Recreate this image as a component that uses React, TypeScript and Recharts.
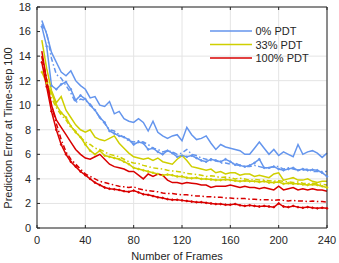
import { LineChart, Line, XAxis, YAxis, CartesianGrid } from 'recharts';

// frame counts on the x axis
const frames = [
  4, 8, 12, 16, 20, 24, 28, 32, 36, 40, 44, 48, 52, 56, 60, 64, 68, 72, 76, 80,
  84, 88, 92, 96, 100, 104, 108, 112, 116, 120, 124, 128, 132, 136, 140, 144, 148, 152, 156, 160,
  164, 168, 172, 176, 180, 184, 188, 192, 196, 200, 204, 208, 212, 216, 220, 224, 228, 232, 236, 240,
];

// 0% PDT
const blueSolid = [
  16.9, 15.8, 14.3, 13.5, 12.7, 12.4, 12.8, 12.0, 11.6, 11.3,
  10.6, 10.7, 10.0, 9.9, 10.3, 9.3, 9.5, 8.9, 8.7, 8.6,
  8.9, 8.6, 7.9, 8.7, 7.8, 7.5, 7.3, 7.5, 7.6, 7.1,
  8.2, 7.6, 7.2, 7.3, 7.5, 6.9, 6.4, 6.8, 6.6, 6.5,
  6.4, 6.3, 6.0, 6.0, 6.5, 7.0, 6.5, 6.0, 6.4, 5.9,
  6.2, 6.0, 5.8, 6.8, 6.0, 6.2, 6.3, 6.1, 5.75, 6.1,
];
const blueDashDot = [
  16.6, 15.9, 13.8, 12.5, 12.2, 11.6, 11.0, 10.2, 10.5, 10.4,
  10.1, 9.6, 9.0, 8.5, 8.0, 7.9, 7.6, 7.4, 7.1, 7.0,
  7.1, 7.0, 6.8, 6.5, 6.4, 6.2, 6.3, 6.2, 6.0, 6.1,
  6.4, 6.0, 5.9, 5.7, 5.6, 5.5, 5.5, 5.3, 5.3, 5.2,
  5.3, 5.1, 5.0, 5.0, 5.1, 5.0, 4.9, 4.9, 5.0, 5.0,
  4.8, 4.9, 4.8, 4.7, 4.7, 4.8, 4.6, 4.6, 4.6, 4.6,
];
const blueDots = [
  16.4, 14.8, 11.6, 11.3, 11.7, 11.9, 11.3, 10.4, 10.8, 10.5,
  10.0, 9.6, 9.0, 8.6, 7.9, 7.7, 7.5, 7.4, 7.2, 6.8,
  7.0, 6.9, 6.4, 6.5, 6.2, 6.0, 6.3, 6.1, 5.8, 5.9,
  5.8, 5.9, 5.7, 5.5, 5.4, 5.6, 5.5, 5.4, 5.6, 5.4,
  5.15, 5.1, 5.0, 5.1, 5.3, 5.6, 4.9, 4.9, 5.0, 4.8,
  4.7, 4.8, 4.9, 4.7, 4.8, 4.7, 4.75, 4.7, 4.5, 4.2,
];

// 33% PDT
const yellowSolid = [
  15.3, 13.0, 11.2, 10.2, 10.7, 9.6, 9.0, 8.4, 8.0, 7.8,
  8.0, 7.4, 7.2, 7.1, 7.3, 7.5, 6.9, 6.5, 6.1, 5.8,
  5.7, 5.6, 5.7, 5.5, 5.7, 5.4, 5.3, 5.2, 5.6, 5.9,
  5.5, 5.0, 4.9, 4.8, 4.7, 4.8, 4.5, 4.6, 4.4, 4.5,
  4.5, 4.3, 4.4, 4.4, 4.2, 4.3, 4.2, 4.1, 4.4, 4.5,
  3.9, 4.0, 4.1, 3.9, 3.9, 4.0, 3.8, 3.7, 3.8, 3.8,
];
const yellowDashDot = [
  14.0, 12.2, 10.6, 9.8, 9.2, 8.8, 8.2, 7.9, 7.4, 7.0,
  6.8, 6.5, 6.4, 6.2, 6.0, 5.9, 5.8, 5.6, 5.4, 5.3,
  5.25, 5.1, 5.0, 4.9, 4.85, 4.8, 4.7, 4.65, 4.6, 4.55,
  4.45, 4.4, 4.35, 4.3, 4.2, 4.25, 4.2, 4.1, 4.15, 4.1,
  4.0, 4.05, 4.0, 3.9, 3.95, 3.9, 3.9, 3.85, 3.8, 3.85,
  3.8, 3.75, 3.7, 3.75, 3.65, 3.6, 3.65, 3.6, 3.55, 3.5,
];
const yellowDots = [
  12.7, 11.8, 11.0, 10.0, 9.4, 9.0, 8.3, 7.8, 7.4, 6.8,
  6.3, 6.0, 6.3, 5.9, 5.8, 5.7, 5.6, 5.4, 5.2, 4.9,
  4.8, 4.7, 4.6, 4.5, 4.4, 4.3, 4.35, 4.3, 4.2, 4.2,
  4.1, 4.05, 4.1, 4.0, 4.0, 3.95, 3.9, 3.9, 3.95, 3.9,
  3.85, 3.8, 3.85, 3.8, 3.8, 3.75, 3.8, 3.7, 3.7, 3.75,
  3.6, 3.65, 3.6, 3.6, 3.55, 3.5, 3.55, 3.5, 3.4, 3.3,
];

// 100% PDT
const redSolid = [
  14.4, 12.0, 10.0, 8.8, 8.2, 7.6, 7.0, 6.4, 6.0, 5.7,
  5.6, 5.8, 6.0, 5.6, 5.2, 5.0, 4.9, 4.8, 4.6, 4.6,
  4.3, 4.0, 4.4, 4.2, 4.4, 4.3, 3.9, 3.7, 3.7, 3.6,
  3.7, 3.65, 3.6, 3.5, 3.5, 3.3, 3.4, 3.4, 3.4, 3.5,
  3.4, 3.3, 3.4, 3.3, 3.3, 3.2, 3.3, 3.2, 3.1, 3.4,
  3.1, 3.2, 3.3, 3.1, 3.2, 3.1, 3.2, 3.1, 3.1, 3.0,
];
const redDashDot = [
  14.0, 12.0, 10.0, 8.5, 7.2, 6.2, 5.6, 5.2, 4.8, 4.4,
  4.2, 4.0, 3.8, 3.7, 3.6, 3.5, 3.4, 3.35, 3.3, 3.35,
  3.2, 3.1, 3.05, 3.0, 2.95, 2.85, 2.8, 2.8, 2.75, 2.7,
  2.7, 2.65, 2.6, 2.6, 2.55, 2.55, 2.5, 2.5, 2.45, 2.45,
  2.4, 2.4, 2.4, 2.35, 2.35, 2.3, 2.3, 2.3, 2.25, 2.3,
  2.25, 2.2, 2.25, 2.2, 2.2, 2.15, 2.2, 2.15, 2.15, 2.1,
];
const redDots = [
  13.5, 11.5, 9.5, 8.0, 6.8, 6.0, 5.4, 5.0, 4.6, 4.3,
  4.0, 3.7, 3.5, 3.3, 3.2, 3.15, 3.1, 3.0, 2.95, 3.05,
  2.9, 2.75, 2.7, 2.6, 2.5, 2.45, 2.35, 2.3, 2.3, 2.25,
  2.2, 2.15, 2.1, 2.1, 2.05, 2.0, 1.95, 1.95, 1.9, 1.9,
  1.95, 1.85, 1.8, 1.85, 1.8, 1.75, 1.8, 1.75, 1.7, 2.0,
  1.75, 1.7, 1.8, 1.7, 1.65, 1.7, 1.65, 1.6, 1.65, 1.6,
];

const xTicks = [0, 40, 80, 120, 160, 200, 240];
const yTicks = [0, 2, 4, 6, 8, 10, 12, 14, 16, 18];

const BLUE = '#6495ed';
const YELLOW = '#cfcf00';
const RED = '#d90000';
const AXIS = '#262626';
const FONT = '"Liberation Sans", Arial, sans-serif';
const DASHDOT = '5 2.5 1.5 2.5';

const legendItems = [
  { label: '0% PDT', color: BLUE },
  { label: '33% PDT', color: YELLOW },
  { label: '100% PDT', color: RED },
];

const data = frames.map((f, i) => ({
  f,
  b1: blueSolid[i], b2: blueDashDot[i], b3: blueDots[i],
  y1: yellowSolid[i], y2: yellowDashDot[i], y3: yellowDots[i],
  r1: redSolid[i], r2: redDashDot[i], r3: redDots[i],
}));

const tickStyle = { fill: AXIS, fontSize: 11, fontFamily: FONT };
const dotFor = (c: string) => ({ r: 0.9, fill: c, stroke: c, strokeWidth: 0.8 });

export default function App() {
  return (
    <div style={{ position: 'absolute', left: 0, top: 0, width: 339, height: 263, background: '#fff' }}>
      <LineChart width={339} height={263} data={data} margin={{ top: 6, right: 11, left: 0, bottom: 0 }}>
        <CartesianGrid stroke="#e4e4e4" strokeWidth={1} />
        <XAxis dataKey="f" type="number" domain={[0, 240]} ticks={xTicks} height={35}
          stroke={AXIS} tick={tickStyle} tickSize={-3} tickMargin={11} />
        <YAxis type="number" domain={[0, 18]} ticks={yTicks} width={37}
          stroke={AXIS} tick={tickStyle} tickSize={-3} tickMargin={9} />
        <XAxis xAxisId="top" orientation="top" dataKey="f" type="number" domain={[0, 240]} ticks={xTicks}
          height={1} stroke={AXIS} tickSize={-3} tickFormatter={() => ''} />
        <YAxis yAxisId="right" orientation="right" type="number" domain={[0, 18]} ticks={yTicks}
          width={1} stroke={AXIS} tickSize={-3} tickFormatter={() => ''} />

        <Line dataKey="b1" stroke={BLUE} strokeWidth={1.5} dot={false} isAnimationActive={false} />
        <Line dataKey="b2" stroke={BLUE} strokeWidth={1.5} strokeDasharray={DASHDOT} dot={false} isAnimationActive={false} />
        <Line dataKey="b3" stroke={BLUE} strokeWidth={1.5} dot={dotFor(BLUE)} isAnimationActive={false} />
        <Line dataKey="y1" stroke={YELLOW} strokeWidth={1.5} dot={false} isAnimationActive={false} />
        <Line dataKey="y2" stroke={YELLOW} strokeWidth={1.5} strokeDasharray={DASHDOT} dot={false} isAnimationActive={false} />
        <Line dataKey="y3" stroke={YELLOW} strokeWidth={1.5} dot={dotFor(YELLOW)} isAnimationActive={false} />
        <Line dataKey="r1" stroke={RED} strokeWidth={1.5} dot={false} isAnimationActive={false} />
        <Line dataKey="r2" stroke={RED} strokeWidth={1.5} strokeDasharray={DASHDOT} dot={false} isAnimationActive={false} />
        <Line dataKey="r3" stroke={RED} strokeWidth={1.5} dot={dotFor(RED)} isAnimationActive={false} />
      </LineChart>

      <svg width={339} height={263} style={{ position: 'absolute', left: 0, top: 0, pointerEvents: 'none' }}>
        {legendItems.map((item, i) => (
          <g key={item.label}>
            <line x1={210} x2={252} y1={31 + i * 13.5} y2={31 + i * 13.5} stroke={item.color} strokeWidth={1.5} />
            <text x={255.5} y={31 + i * 13.5 + 4} fontSize={11} fontFamily={FONT} fill={AXIS}>{item.label}</text>
          </g>
        ))}
        <text x={177} y={259.5} textAnchor="middle" fontSize={11} fontFamily={FONT} fill={AXIS}>Number of Frames</text>
        <text transform="translate(11.5,128) rotate(-90)" x={0} y={0} textAnchor="middle" fontSize={11} fontFamily={FONT} fill={AXIS}>
          Prediction Error at Time-step 100
        </text>
      </svg>
    </div>
  );
}
